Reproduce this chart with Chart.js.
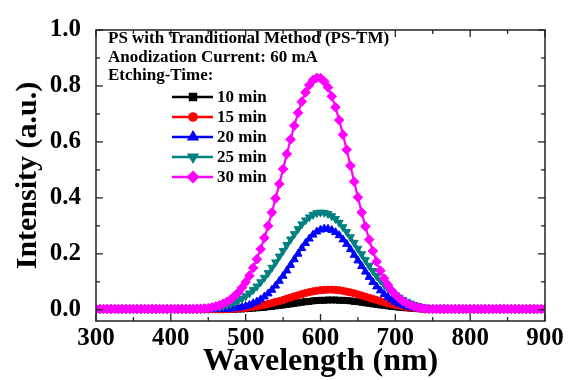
<!DOCTYPE html>
<html lang="en">
<head>
<meta charset="UTF-8">
<title>PS-TM Intensity vs Wavelength</title>
<script src="https://cdn.jsdelivr.net/npm/chart.js@4"></script>
<style>
  html, body { margin: 0; padding: 0; background: #fff; }
  #wrap { width: 570px; height: 380px; }
</style>
</head>
<body>
<div id="wrap"><canvas id="chart" width="570" height="380"></canvas></div>
<script>
const wavelength = [
  300, 305, 310, 315, 320, 325, 330, 335, 340, 345,
  350, 355, 360, 365, 370, 375, 380, 385, 390, 395,
  400, 405, 410, 415, 420, 425, 430, 435, 440, 445,
  450, 455, 460, 465, 470, 475, 480, 485, 490, 495,
  500, 505, 510, 515, 520, 525, 530, 535, 540, 545,
  550, 555, 560, 565, 570, 575, 580, 585, 590, 595,
  600, 605, 610, 615, 620, 625, 630, 635, 640, 645,
  650, 655, 660, 665, 670, 675, 680, 685, 690, 695,
  700, 705, 710, 715, 720, 725, 730, 735, 740, 745,
  750, 755, 760, 765, 770, 775, 780, 785, 790, 795,
  800, 805, 810, 815, 820, 825, 830, 835, 840, 845,
  850, 855, 860, 865, 870, 875, 880, 885, 890, 895,
  900
];

const min10 = [
  .002, .002, .002, .002, .002, .002, .002, .002, .002, .002,
  .002, .002, .002, .002, .002, .002, .002, .002, .002, .002,
  .002, .002, .002, .002, .002, .002, .002, .002, .002, .002,
  .002, .002, .002, .002, .002, .002, .002, .002, .003, .003,
  .004, .005, .006, .007, .008, .009, .011, .012, .014, .016,
  .017, .019, .021, .023, .025, .027, .029, .030, .032, .033,
  .034, .034, .035, .035, .035, .034, .034, .033, .032, .030,
  .029, .027, .025, .023, .021, .019, .017, .016, .014, .012,
  .011, .009, .008, .007, .006, .005, .004, .003, .003, .002,
  .002, .002, .002, .002, .002, .002, .002, .002, .002, .002,
  .002, .002, .002, .002, .002, .002, .002, .002, .002, .002,
  .002, .002, .002, .002, .002, .002, .002, .002, .002, .002,
  .002
];
const min15 = [
  .002, .002, .002, .002, .002, .002, .002, .002, .002, .002,
  .002, .002, .002, .002, .002, .002, .002, .002, .002, .002,
  .002, .002, .002, .002, .002, .002, .002, .002, .002, .002,
  .002, .002, .002, .002, .002, .002, .003, .004, .005, .006,
  .007, .009, .011, .013, .015, .018, .021, .024, .028, .031,
  .035, .040, .044, .048, .052, .056, .060, .063, .066, .068,
  .070, .071, .072, .072, .071, .070, .068, .065, .062, .059,
  .055, .051, .047, .043, .039, .035, .031, .027, .023, .020,
  .017, .015, .012, .010, .008, .007, .006, .004, .004, .003,
  .002, .002, .002, .002, .002, .002, .002, .002, .002, .002,
  .002, .002, .002, .002, .002, .002, .002, .002, .002, .002,
  .002, .002, .002, .002, .002, .002, .002, .002, .002, .002,
  .002
];
const min20 = [
  .002, .002, .002, .002, .002, .002, .002, .002, .002, .002,
  .002, .002, .002, .002, .002, .002, .002, .002, .002, .002,
  .002, .002, .002, .002, .002, .002, .002, .002, .002, .002,
  .002, .002, .002, .002, .002, .003, .004, .005, .007, .010,
  .013, .017, .023, .029, .037, .047, .058, .071, .086, .103,
  .121, .140, .160, .180, .200, .220, .238, .254, .268, .279,
  .286, .290, .289, .285, .277, .266, .251, .235, .216, .196,
  .176, .156, .136, .117, .099, .083, .069, .056, .045, .036,
  .028, .022, .016, .012, .009, .007, .005, .004, .003, .002,
  .002, .002, .002, .002, .002, .002, .002, .002, .002, .002,
  .002, .002, .002, .002, .002, .002, .002, .002, .002, .002,
  .002, .002, .002, .002, .002, .002, .002, .002, .002, .002,
  .002
];
const min25 = [
  .002, .002, .002, .002, .002, .002, .002, .002, .002, .002,
  .002, .002, .002, .002, .002, .002, .002, .002, .002, .002,
  .002, .002, .002, .002, .002, .002, .002, .002, .003, .003,
  .004, .006, .008, .010, .013, .017, .021, .026, .033, .040,
  .049, .059, .071, .084, .099, .115, .132, .151, .170, .191,
  .211, .232, .252, .271, .289, .306, .320, .331, .340, .346,
  .348, .347, .343, .335, .325, .312, .296, .279, .260, .240,
  .219, .199, .178, .158, .139, .121, .105, .090, .076, .064,
  .053, .044, .036, .029, .023, .018, .014, .011, .009, .007,
  .005, .004, .003, .002, .002, .002, .002, .002, .002, .002,
  .002, .002, .002, .002, .002, .002, .002, .002, .002, .002,
  .002, .002, .002, .002, .002, .002, .002, .002, .002, .002,
  .002
];
const min30 = [
  .003, .003, .003, .003, .003, .003, .003, .003, .003, .003,
  .003, .003, .003, .003, .003, .003, .003, .003, .003, .003,
  .003, .003, .003, .003, .003, .003, .003, .004, .004, .005,
  .006, .009, .012, .016, .022, .029, .037, .049, .062, .079,
  .099, .122, .150, .181, .217, .257, .300, .348, .398, .450,
  .503, .557, .609, .658, .704, .744, .777, .803, .821, .829,
  .828, .816, .795, .763, .724, .678, .626, .572, .515, .458,
  .402, .348, .298, .251, .210, .172, .140, .112, .089, .069,
  .054, .041, .031, .023, .017, .012, .009, .006, .004, .003,
  .003, .003, .003, .003, .003, .003, .003, .003, .003, .003,
  .003, .003, .003, .003, .003, .003, .003, .003, .003, .003,
  .003, .003, .003, .003, .003, .003, .003, .003, .003, .003,
  .003
];

const seriesNames = ['10 min', '15 min', '20 min', '25 min', '30 min'];
const seriesValues = [min10, min15, min20, min25, min30];
const seriesColors = ['#000000', '#ff0000', '#0000ff', '#008080', '#ff00ff'];
const seriesMarkers = ['rect', 'circle', 'triangle', 'triangle', 'rectRot'];
const markerRotation = [0, 0, 0, 180, 0];
const markerRadius = [4.2, 3.6, 4.6, 4.6, 4.8];

const xTicks = [300, 400, 500, 600, 700, 800, 900];
const xMinorTicks = [350, 450, 550, 650, 750, 850];
const yTicks = [0, 0.2, 0.4, 0.6, 0.8, 1.0];
const yMinorTicks = [0.1, 0.3, 0.5, 0.7, 0.9];

const headerLines = ['PS with Tranditional Method (PS-TM)', 'Anodization Current: 60 mA', 'Etching-Time:'];

const SERIF = "'Times New Roman', 'Liberation Serif', serif";

const datasets = seriesNames.map((name, i) => ({
  label: name,
  data: wavelength.map((w, j) => ({ x: w, y: seriesValues[i][j] })),
  borderColor: seriesColors[i],
  backgroundColor: seriesColors[i],
  borderWidth: 2.2,
  pointStyle: seriesMarkers[i],
  pointRotation: markerRotation[i],
  pointRadius: markerRadius[i],
  pointBackgroundColor: seriesColors[i],
  pointBorderColor: seriesColors[i],
  pointBorderWidth: 1,
  tension: 0,
  order: seriesNames.length - i,
}));

// frame with inward ticks on all four sides
const framePlugin = {
  id: 'frame',
  afterDraw(chart) {
    const { ctx, chartArea: a, scales: { x, y } } = chart;
    ctx.save();
    ctx.strokeStyle = '#222';
    ctx.lineWidth = 1.5;
    ctx.strokeRect(a.left, a.top, a.right - a.left, a.bottom - a.top);
    ctx.lineWidth = 1.3;
    const tick = (x1, y1, x2, y2) => { ctx.beginPath(); ctx.moveTo(x1, y1); ctx.lineTo(x2, y2); ctx.stroke(); };
    xTicks.forEach(v => { const p = x.getPixelForValue(v); tick(p, a.bottom, p, a.bottom - 7); tick(p, a.top, p, a.top + 7); });
    xMinorTicks.forEach(v => { const p = x.getPixelForValue(v); tick(p, a.bottom, p, a.bottom - 4); tick(p, a.top, p, a.top + 4); });
    yTicks.forEach(v => { const p = y.getPixelForValue(v); tick(a.left, p, a.left + 7, p); tick(a.right, p, a.right - 7, p); });
    yMinorTicks.forEach(v => { const p = y.getPixelForValue(v); tick(a.left, p, a.left + 4, p); tick(a.right, p, a.right - 4, p); });
    ctx.restore();
  }
};

// header text and legend inside the plot
const notePlugin = {
  id: 'note',
  afterDraw(chart) {
    const { ctx } = chart;
    ctx.save();
    ctx.fillStyle = '#000';
    ctx.font = 'bold 17px ' + SERIF;
    ctx.textBaseline = 'alphabetic';
    ctx.textAlign = 'left';
    headerLines.forEach((t, i) => ctx.fillText(t, 108, 43 + i * 18.5));
    chart.data.datasets.forEach((ds, i) => {
      const cy = 97 + i * 20;
      ctx.strokeStyle = ds.borderColor;
      ctx.lineWidth = 2.5;
      ctx.beginPath(); ctx.moveTo(172, cy); ctx.lineTo(213, cy); ctx.stroke();
      ctx.fillStyle = ds.borderColor;
      Chart.helpers.drawPoint(ctx, {
        pointStyle: ds.pointStyle, rotation: ds.pointRotation,
        radius: ds.pointRadius, borderWidth: 1
      }, 193, cy);
      ctx.fillStyle = '#000';
      ctx.textBaseline = 'middle';
      ctx.fillText(ds.label, 217, cy + 1);
    });
    ctx.restore();
  }
};

new Chart(document.getElementById('chart'), {
  type: 'line',
  data: { datasets },
  plugins: [framePlugin, notePlugin],
  options: {
    responsive: false,
    animation: false,
    layout: { padding: { top: 19, right: 25, left: 0, bottom: 0 } },
    plugins: { legend: { display: false }, tooltip: { enabled: false } },
    scales: {
      x: {
        type: 'linear', min: 300, max: 900,
        afterBuildTicks: s => { s.ticks = xTicks.map(v => ({ value: v })); },
        afterFit: s => { s.height = 59; },
        grid: { display: false, drawTicks: false },
        border: { display: false },
        ticks: { color: '#000', padding: 3, maxRotation: 0, font: { family: SERIF, size: 25, weight: 'bold' } },
        title: { display: true, text: 'Wavelength (nm)', color: '#000', padding: { top: 0, bottom: 2 },
                 font: { family: SERIF, size: 32, weight: 'bold', lineHeight: 1.0 } },
      },
      y: {
        type: 'linear', min: -0.04, max: 1.0,
        afterBuildTicks: s => { s.ticks = yTicks.map(v => ({ value: v })); },
        afterFit: s => { s.width = 96; },
        grid: { display: false, drawTicks: false },
        border: { display: false },
        ticks: { color: '#000', padding: 15, callback: v => v.toFixed(1), font: { family: SERIF, size: 25, weight: 'bold' } },
        title: { display: true, text: 'Intensity (a.u.)', color: '#000', padding: { top: 10, bottom: 0 },
                 font: { family: SERIF, size: 30, weight: 'bold' } },
      },
    },
  },
});
</script>
</body>
</html>
